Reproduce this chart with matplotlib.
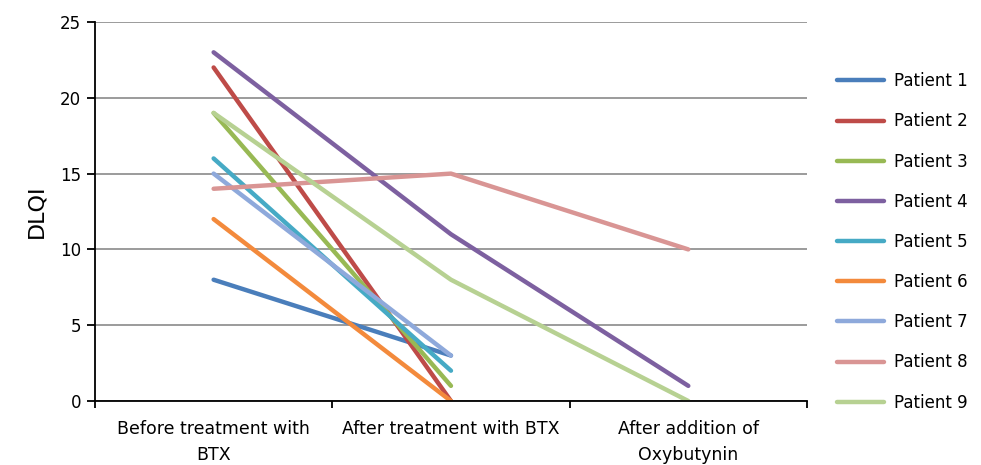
import numpy as np
from matplotlib import pyplot as plt

categories = ["Before treatment with\nBTX", "After treatment with BTX", "After addition of\nOxybutynin"]
patients = ["Patient %d" % i for i in range(1, 10)]
# NaN = no value for that stage
dlqi = [
    [8, 3, np.nan],
    [22, 0, np.nan],
    [19, 1, np.nan],
    [23, 11, 1],
    [16, 2, np.nan],
    [12, 0, np.nan],
    [15, 3, np.nan],
    [14, 15, 10],
    [19, 8, 0],
]
colors = ["#4A7EBB", "#BE4B48", "#98B954", "#7D60A0", "#46AAC5",
          "#F38A3C", "#8EA9DB", "#D99594", "#B7D192"]

plt.rcParams["font.family"] = "DejaVu Sans"
fig = plt.figure(figsize=(9.81, 4.65), dpi=100)
ax = fig.add_axes([0.0968, 0.1376, 0.7258, 0.8151])

x = np.arange(len(categories))
for name, vals, c in zip(patients, dlqi, colors):
    ax.plot(x, vals, color=c, lw=3.2, label=name, solid_capstyle="round")

ax.set_xlim(-0.5, 2.5)
ax.set_ylim(0, 25)
ax.set_yticks(range(0, 26, 5))
ax.set_xticks([-0.5, 0.5, 1.5, 2.5])
ax.set_xticklabels([])
ax.set_xticks(x, minor=True)
ax.set_xticklabels(categories, minor=True, fontsize=12.5, linespacing=1.55)
ax.tick_params(axis="x", which="minor", length=0, pad=14)
ax.tick_params(axis="x", which="major", length=5, direction="out", width=1.3)
ax.tick_params(axis="y", length=6, direction="out", width=1.3, labelsize=12, pad=4)
ax.yaxis.grid(True, color="#8a8a8a", lw=1.2)
ax.set_axisbelow(True)
for s in ["top", "right"]:
    ax.spines[s].set_visible(False)
for s in ["left", "bottom"]:
    ax.spines[s].set_linewidth(1.3)
ax.set_ylabel("DLQI", fontsize=16, labelpad=10)

fig.legend(loc="upper left", bbox_to_anchor=(0.838, 0.877), frameon=False,
           fontsize=12, handlelength=2.8, labelspacing=1.33, handletextpad=0.6)

fig.savefig("out.png", dpi=100)
